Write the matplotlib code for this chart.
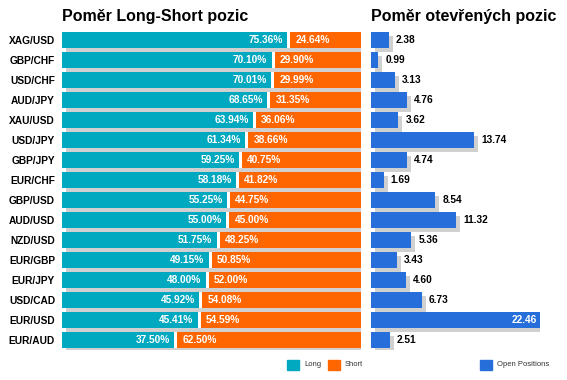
import numpy as np
import matplotlib
matplotlib.use('Agg')
import matplotlib.pyplot as plt
import matplotlib.transforms as mtransforms
from matplotlib.patches import Rectangle

plt.rcParams['font.family'] = ['Liberation Sans', 'DejaVu Sans']

# data
pairs = ['XAG/USD', 'GBP/CHF', 'USD/CHF', 'AUD/JPY', 'XAU/USD', 'USD/JPY',
         'GBP/JPY', 'EUR/CHF', 'GBP/USD', 'AUD/USD', 'NZD/USD', 'EUR/GBP',
         'EUR/JPY', 'USD/CAD', 'EUR/USD', 'EUR/AUD']
long_pct = [75.36, 70.10, 70.01, 68.65, 63.94, 61.34, 59.25, 58.18,
            55.25, 55.00, 51.75, 49.15, 48.00, 45.92, 45.41, 37.50]
short_pct = [24.64, 29.90, 29.99, 31.35, 36.06, 38.66, 40.75, 41.82,
             44.75, 45.00, 48.25, 50.85, 52.00, 54.08, 54.59, 62.50]
open_pos = [2.38, 0.99, 3.13, 4.76, 3.62, 13.74, 4.74, 1.69,
            8.54, 11.32, 5.36, 3.43, 4.60, 6.73, 22.46, 2.51]

c_long = '#00a8c0'
c_short = '#ff6600'
c_open = '#266fdb'
c_shadow = '#d0d0d0'

W, H = 567, 380
fig = plt.figure(figsize=(W / 100, H / 100), dpi=100)

def px_axes(x0, x1, y0, y1):
    return fig.add_axes([x0 / W, 1 - y1 / H, (x1 - x0) / W, (y1 - y0) / H])

y = np.arange(len(pairs))
bh = 0.78
fs = 7.3

# ---- left: long/short ratio
ax = px_axes(62, 361, 30, 350)
shadow = mtransforms.offset_copy(ax.transData, fig, x=4, y=-4, units='dots')
total = np.array(long_pct) + np.array(short_pct)
ax.barh(y, total, height=bh, color=c_shadow, transform=shadow, zorder=1)
ax.barh(y, long_pct, height=bh, color=c_long, zorder=2)
ax.barh(y, short_pct, left=long_pct, height=bh, color=c_short, zorder=2)
# white gap between long and short
ax.barh(y, 1.0, left=long_pct, height=bh, color='white', zorder=3)
for i in range(len(pairs)):
    ax.text(long_pct[i] - 1.5, y[i], '%.2f%%' % long_pct[i], color='white',
            fontsize=fs, fontweight='bold', ha='right', va='center', zorder=4)
    ax.text(long_pct[i] + 2.7, y[i], '%.2f%%' % short_pct[i], color='white',
            fontsize=fs, fontweight='bold', ha='left', va='center', zorder=4)
ax.set_xlim(0, 100)
ax.set_ylim(len(pairs) - 0.5, -0.5)
ax.set_yticks(y)
ax.set_yticklabels(pairs, fontsize=fs, fontweight='bold')
ax.tick_params(axis='y', length=0, pad=5)
ax.set_xticks([])
for s in ax.spines.values():
    s.set_visible(False)

# ---- right: open positions
ax2 = px_axes(371, 540, 30, 350)
shadow2 = mtransforms.offset_copy(ax2.transData, fig, x=4, y=-4, units='dots')
ax2.barh(y, open_pos, height=bh, color=c_shadow, transform=shadow2, zorder=1)
ax2.barh(y, open_pos, height=bh, color=c_open, zorder=2)
vmax = max(open_pos)
for i, v in enumerate(open_pos):
    if v == vmax:
        ax2.text(v - 0.4, y[i], '%.2f' % v, color='white', fontsize=fs,
                 fontweight='bold', ha='right', va='center', zorder=4)
    else:
        ax2.text(v + 0.95, y[i], '%.2f' % v, color='black', fontsize=fs,
                 fontweight='bold', ha='left', va='center', zorder=4)
ax2.set_xlim(0, vmax)
ax2.set_ylim(len(pairs) - 0.5, -0.5)
ax2.set_xticks([])
ax2.set_yticks([])
for s in ax2.spines.values():
    s.set_visible(False)

# titles
fig.text(62 / W, 1 - 21 / H, 'Poměr Long-Short pozic', fontsize=11.5,
         fontweight='bold', ha='left', va='baseline')
fig.text(371 / W, 1 - 21 / H, 'Poměr otevřených pozic', fontsize=11.5,
         fontweight='bold', ha='left', va='baseline')

# legend
def legend_item(x, label, color):
    fig.patches.append(Rectangle((x / W, 1 - 370 / H), 12 / W, 10 / H,
                                 transform=fig.transFigure, color=color))
    fig.text((x + 17) / W, 1 - 365 / H, label, fontsize=5.5, color='#333333',
             ha='left', va='center')

legend_item(287, 'Long', c_long)
legend_item(328, 'Short', c_short)
legend_item(480, 'Open Positions', c_open)

plt.savefig('out.png', dpi=100)
